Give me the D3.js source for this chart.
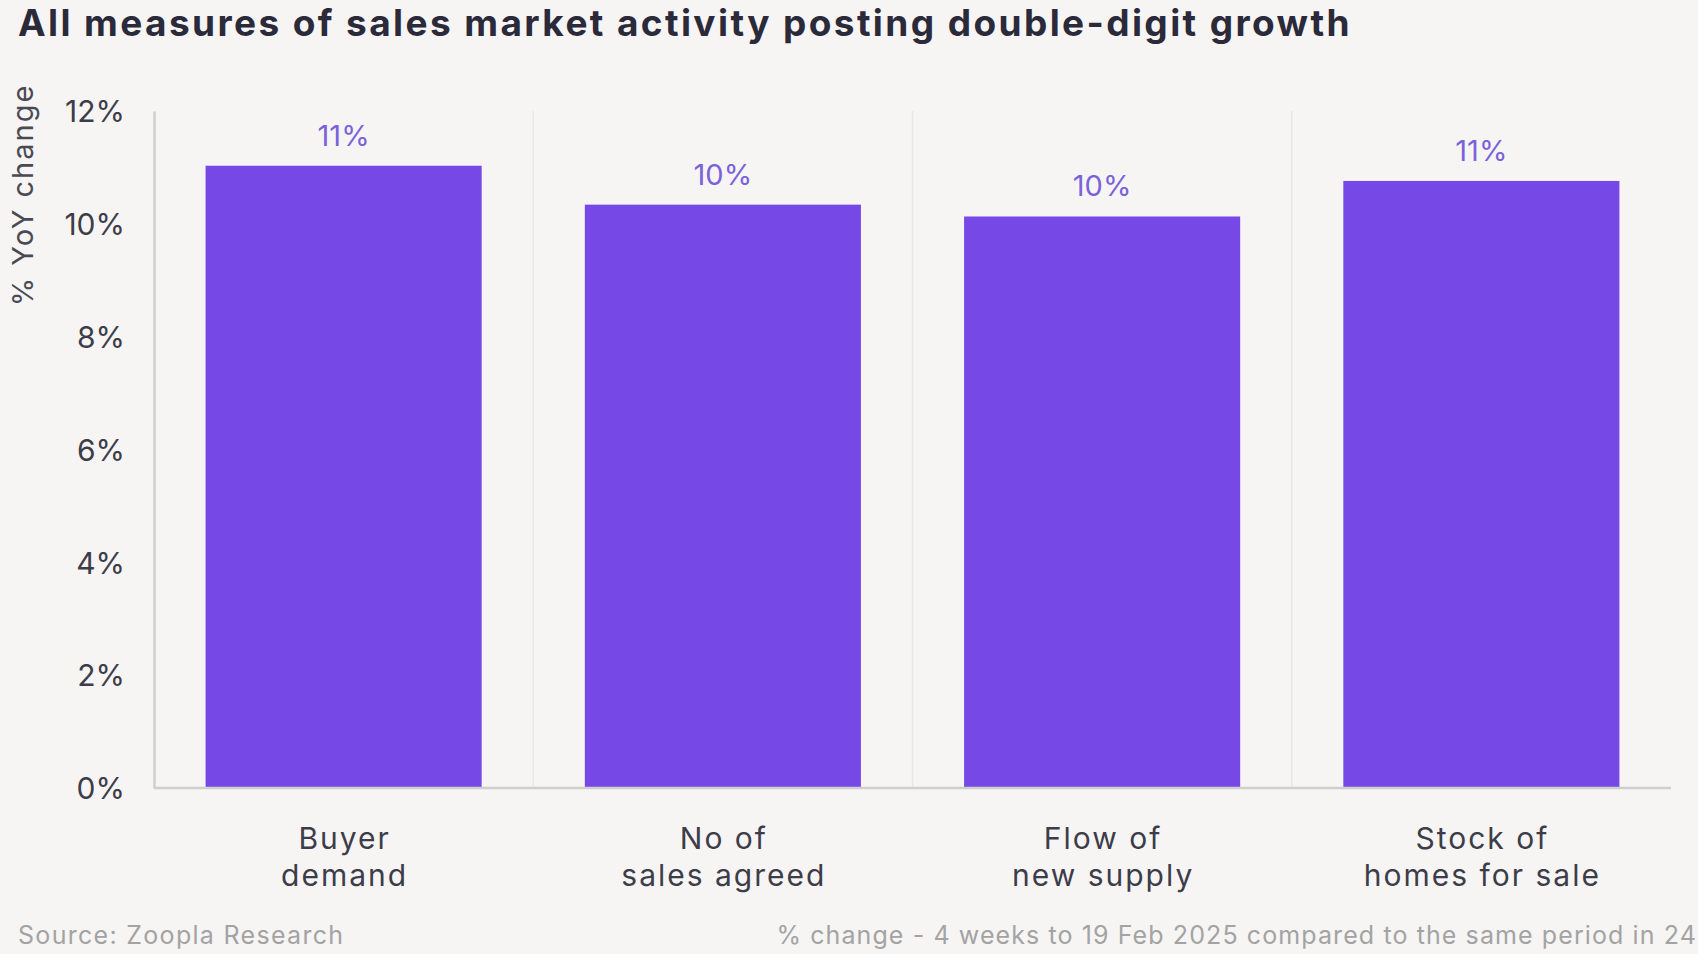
<!DOCTYPE html>
<html><head><meta charset="utf-8">
<script src="https://cdn.jsdelivr.net/npm/d3@7"></script>
<style>
html,body{margin:0;padding:0;background:#f6f5f4;}
svg{display:block;font-family:Inter,"Open Sans",sans-serif;}
</style></head>
<body><svg id="c" width="1698" height="954"></svg>
<script>
const categories = [["Buyer","demand"],["No of","sales agreed"],["Flow of","new supply"],["Stock of","homes for sale"]];
const values = [11.03, 10.34, 10.13, 10.76];
const valueLabels = ["11%","10%","10%","11%"];
const yTicks = [0,2,4,6,8,10,12];

const svg = d3.select("#c");
const W=1698,H=954;
const m={left:154,right:27,top:111,bottom:166};
const x = d3.scaleBand().domain(d3.range(categories.length)).range([m.left,W-m.right]).paddingInner(0.272).paddingOuter(0.136);
const y = d3.scaleLinear().domain([0,12]).range([H-m.bottom,m.top]);

svg.append("rect").attr("width",W).attr("height",H).attr("fill","#f6f5f4");

// band dividers
const step = x.step();
svg.append("g").selectAll("line").data(d3.range(1,categories.length)).join("line")
  .attr("x1",d=>m.left+d*step).attr("x2",d=>m.left+d*step)
  .attr("y1",y(12)).attr("y2",y(0))
  .attr("stroke","#e8e7e6").attr("stroke-width",1.5);

// bars
svg.append("g").selectAll("rect").data(values).join("rect")
  .attr("x",(d,i)=>x(i)).attr("width",x.bandwidth())
  .attr("y",d=>y(d)).attr("height",d=>y(0)-y(d))
  .attr("fill","#7649e6");

// value labels
svg.append("g").selectAll("text").data(values).join("text")
  .attr("x",(d,i)=>x(i)+x.bandwidth()/2).attr("y",d=>y(d)-20)
  .attr("text-anchor","middle").attr("font-size",29)
  .attr("fill","#7a62d9").text((d,i)=>valueLabels[i]);

// axes
const yAxis = d3.axisLeft(y).tickValues(yTicks).tickFormat(d=>d+"%").tickSize(0).tickPadding(29);
const gy = svg.append("g").attr("transform",`translate(${m.left},0)`).call(yAxis);
gy.select(".domain").attr("stroke","#cfcfcf").attr("stroke-width",2.5);
gy.selectAll("text").attr("font-size",30).attr("fill","#3d3d4a").attr("font-family","Inter,sans-serif").attr("dy","0.36em");

const xAxis = d3.axisBottom(x).tickSize(0).tickFormat("");
const gx = svg.append("g").attr("transform",`translate(0,${y(0)})`).call(xAxis);
gx.select(".domain").attr("stroke","#cfcfcf").attr("stroke-width",2.5).attr("d",`M${m.left},0H${W-m.right}`);

// x category labels
const xl = svg.append("g").selectAll("text").data(categories).join("text")
  .attr("x",(d,i)=>x(i)+x.bandwidth()/2+1).attr("y",849)
  .attr("text-anchor","middle").attr("font-size",30).attr("letter-spacing",2)
  .attr("fill","#3d3d4a");
xl.each(function(d){
  const t=d3.select(this);
  d.forEach((s,k)=>t.append("tspan").attr("x",t.attr("x")).attr("dy",k?37:0).text(s));
});

// y axis title
svg.append("text").attr("transform","translate(33,195) rotate(-90)")
  .attr("text-anchor","middle").attr("font-size",29).attr("letter-spacing",2)
  .attr("fill","#4a4a55").text("% YoY change");

// title
svg.append("text").attr("x",18).attr("y",36).attr("font-size",37).attr("font-weight",700)
  .attr("letter-spacing",2.4)
  .attr("fill","#2b2a3a").text("All measures of sales market activity posting double-digit growth");

// footer
svg.append("text").attr("x",18).attr("y",944).attr("font-size",25).attr("letter-spacing",1.3)
  .attr("fill","#a3a3a3").text("Source: Zoopla Research");
svg.append("text").attr("x",1697).attr("y",944).attr("text-anchor","end").attr("font-size",25).attr("letter-spacing",1.1)
  .attr("fill","#a3a3a3")
  .text("% change - 4 weeks to 19 Feb 2025 compared to the same period in 24");
</script></body></html>
